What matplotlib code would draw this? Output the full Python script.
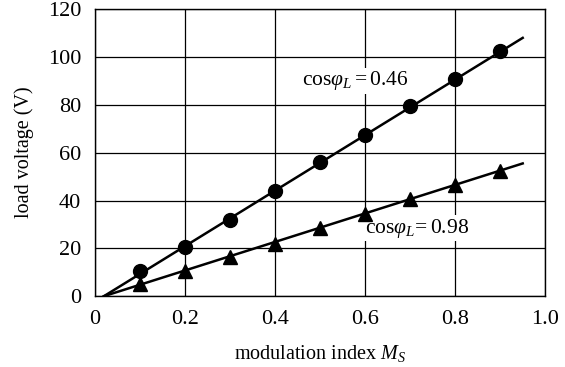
import matplotlib.pyplot as plt

plt.rcParams['font.family'] = 'Liberation Serif'
plt.rcParams['mathtext.fontset'] = 'custom'
plt.rcParams['mathtext.rm'] = 'Liberation Serif'
plt.rcParams['mathtext.it'] = 'Liberation Serif:italic'

ms = [0.1, 0.2, 0.3, 0.4, 0.5, 0.6, 0.7, 0.8, 0.9]
v_046 = [10.5, 20.5, 32, 44, 56, 67.5, 79.5, 91, 102.5]
v_098 = [5, 10.5, 16.5, 22, 28.5, 34.5, 40.5, 46.5, 52.5]

line_x = [0.02, 0.95]
line_046 = [0, 108]
line_098 = [0, 55.5]

fig = plt.figure(figsize=(5.65, 3.67), dpi=100)
ax = fig.add_axes([0.168, 0.193, 0.797, 0.782])

ax.plot(line_x, line_046, color='black', lw=1.8, zorder=3)
ax.plot(line_x, line_098, color='black', lw=1.8, zorder=3)
ax.plot(ms, v_046, 'o', color='black', ms=10, zorder=4)
ax.plot(ms, v_098, '^', color='black', ms=10, zorder=4)

ax.set_xlim(0, 1.0)
ax.set_ylim(0, 120)
ax.set_xticks([0, 0.2, 0.4, 0.6, 0.8, 1.0])
ax.set_xticklabels(['0', '0.2', '0.4', '0.6', '0.8', '1.0'])
ax.set_yticks(range(0, 121, 20))
ax.tick_params(length=0, labelsize=16, pad=10)
ax.grid(True, color='black', lw=0.9)
ax.set_axisbelow(True)
for s in ax.spines.values():
    s.set_linewidth(1.0)

ax.set_xlabel(r'modulation index $M_S$', fontsize=14.5, labelpad=10)
ax.set_ylabel('load voltage (V)', fontsize=14.5, labelpad=10)

ax.text(0.578, 90, r'$\cos\!\varphi_L = 0.46$', fontsize=15.5, ha='center', va='center',
        bbox=dict(facecolor='white', edgecolor='none', pad=1), zorder=2)
ax.text(0.715, 28.5, r'$\cos\!\varphi_L\!= 0.98$', fontsize=15.5, ha='center', va='center',
        bbox=dict(facecolor='white', edgecolor='none', pad=1), zorder=2)

fig.savefig('out.png', dpi=100)
